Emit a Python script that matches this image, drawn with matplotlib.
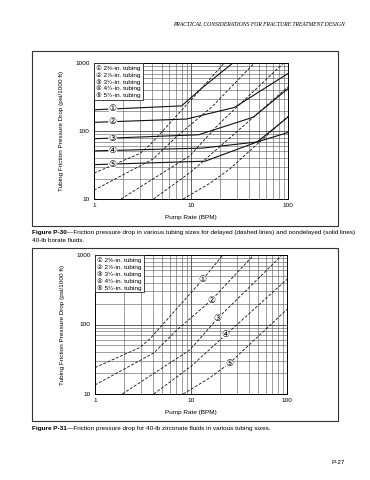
import numpy as np
import matplotlib
matplotlib.use("Agg")
import matplotlib.pyplot as plt
from matplotlib.patches import Rectangle

plt.rcParams['font.family'] = ['Liberation Sans', 'DejaVu Sans', 'Noto Sans CJK JP']
plt.rcParams['font.size'] = 5

W, H = 370, 480

# Data (read from the scanned page)
tubing = ['2⅜-in. tubing', '2⅞-in. tubing', '3½-in. tubing', '4½-in. tubing', '5½-in. tubing']
marks = ['①', '②', '③', '④', '⑤']

# Figure P-30, nondelayed (solid)
p30_solid_x = [[1, 8, 13, 27],
               [1, 9, 28, 100],
               [1, 12, 44, 100],
               [1, 13, 48, 100],
               [1, 14, 48, 100]]
p30_solid_y = [[205, 234, 430, 1000],
               [134, 150, 222, 700],
               [77, 88, 160, 420],
               [51, 56, 69, 95],
               [32, 36, 69, 160]]
# Figure P-30, delayed (dashed)
p30_dash_x = [[1, 3.0, 3.8, 13.3, 22],
              [1, 4.1, 7.1, 16.3, 45],
              [1.9, 9.7, 19, 90],
              [4.1, 10, 23, 100],
              [8.3, 15.6, 25, 100]]
p30_dash_y = [[24, 47, 63, 447, 1000],
              [13.5, 39, 83, 224, 1000],
              [10, 43, 123, 1000],
              [10, 25, 71, 447],
              [10, 17, 27.5, 165]]

# Figure P-31, zirconate (dashed)
p31_dash_x = [[1, 2.97, 3.77, 13.3, 21.5],
              [1, 4.1, 7.1, 16.3, 45],
              [1.93, 9.7, 19, 89],
              [4.1, 10, 23, 100],
              [8.3, 15.6, 25, 100]]
p31_dash_y = [[24, 47, 63, 447, 1000],
              [13.5, 39, 83, 224, 1000],
              [10, 43, 123, 1000],
              [10, 25, 71, 447],
              [10, 17, 27.5, 165]]
p31_label_x = [13.3, 16.3, 19, 23, 25]


def fx(px):
    return px / W


def fy(py):
    return 1 - py / H


def loginterp(x, xs, ys):
    return 10 ** np.interp(np.log10(x), np.log10(xs), np.log10(ys))


fig = plt.figure(figsize=(W / 100, H / 100), dpi=100)

# header
fig.text(fx(345), fy(24), 'PRACTICAL CONSIDERATIONS FOR FRACTURE TREATMENT DESIGN',
         family='Liberation Serif', style='italic', fontsize=4.1, ha='right', va='center')

# page frames
for top, bot in [(51, 226), (248, 421)]:
    fig.add_artist(Rectangle((fx(32), fy(bot)), fx(338) - fx(32), fy(top) - fy(bot),
                             transform=fig.transFigure, fill=False, ec='#333333', lw=0.8))


def setup_axes(rect):
    ax = fig.add_axes(rect)
    ax.set_xscale('log')
    ax.set_yscale('log')
    ax.set_xlim(1, 100)
    ax.set_ylim(10, 1000)
    ax.grid(which='major', color='#333333', lw=0.55)
    ax.grid(which='minor', color='#555555', lw=0.4)
    ax.set_xticks([1, 10, 100], ['1', '10', '100'])
    ax.set_yticks([10, 100, 1000], ['10', '100', '1000'])
    ax.tick_params(which='both', length=0, labelsize=4.6, pad=3)
    ax.xaxis.set_minor_formatter(plt.NullFormatter())
    ax.yaxis.set_minor_formatter(plt.NullFormatter())
    for s in ax.spines.values():
        s.set_linewidth(0.7)
    ax.set_xlabel('Pump Rate (BPM)', fontsize=4.6, labelpad=5)
    ax.set_ylabel('Tubing Friction Pressure Drop (psi/1000 ft)', fontsize=4.6, labelpad=8)
    # legend box
    leg = '\n'.join(m + ' ' + t for m, t in zip(marks, tubing))
    ax.text(0.012, 0.985, leg, transform=ax.transAxes, ha='left', va='top',
            fontsize=4.6, linespacing=1.3, zorder=5,
            bbox=dict(boxstyle='square,pad=0.3', fc='white', ec='#222222', lw=0.6))
    return ax


ax1 = setup_axes([fx(94), fy(199), fx(288) - fx(94), fy(63) - fy(199)])
for xs, ys in zip(p30_solid_x, p30_solid_y):
    ax1.plot(xs, ys, color='#111111', lw=0.8, zorder=3)
for xs, ys in zip(p30_dash_x, p30_dash_y):
    ax1.plot(xs, ys, color='#111111', lw=0.6, ls=(0, (3.5, 2)), zorder=3)
for m, xs, ys in zip(marks, p30_solid_x, p30_solid_y):
    ax1.text(1.56, loginterp(1.56, xs, ys), m, ha='center', va='center', fontsize=6.5,
             zorder=4, bbox=dict(boxstyle='circle,pad=0.0', fc='white', ec='none'))

ax2 = setup_axes([fx(95), fy(394), fx(287) - fx(95), fy(255) - fy(394)])
for xs, ys in zip(p31_dash_x, p31_dash_y):
    ax2.plot(xs, ys, color='#111111', lw=0.6, ls=(0, (3.5, 2)), zorder=3)
for m, lx, xs, ys in zip(marks, p31_label_x, p31_dash_x, p31_dash_y):
    ax2.text(lx, loginterp(lx, xs, ys), m, ha='center', va='center', fontsize=6.5,
             zorder=4, bbox=dict(boxstyle='circle,pad=0.0', fc='white', ec='none'))

t1 = fig.text(fx(32), fy(234), 'Figure P-30', fontsize=4.6, weight='bold', va='baseline')
fig.add_artist(plt.Annotation(
    '\u2014Friction pressure drop in various tubing sizes for delayed (dashed lines) and nondelayed (solid lines)',
    xy=(1, 0), xycoords=t1, va='bottom', fontsize=4.6, annotation_clip=False))
fig.text(fx(32), fy(242), '40-lb borate fluids.', fontsize=4.6, va='baseline')

t2 = fig.text(fx(32), fy(430), 'Figure P-31', fontsize=4.6, weight='bold', va='baseline')
fig.add_artist(plt.Annotation(
    '\u2014Friction pressure drop for 40-lb zirconate fluids in various tubing sizes.',
    xy=(1, 0), xycoords=t2, va='bottom', fontsize=4.6, annotation_clip=False))

fig.text(fx(345), fy(462), 'P-27', fontsize=4.6, ha='right', va='center')

fig.savefig('out.png', dpi=100)
